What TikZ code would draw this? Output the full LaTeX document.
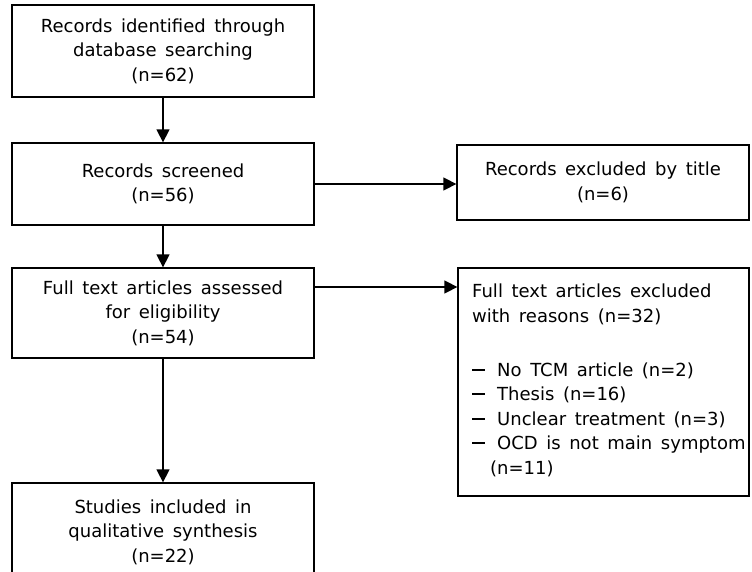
\documentclass[tikz,border=0pt]{standalone}
\usepackage{fontspec}
\setmainfont{DejaVu Sans}[WordSpace=1.5]
\usetikzlibrary{arrows.meta}
\begin{document}
\begin{tikzpicture}[x=1pt,y=-1pt,
 txt/.style={font=\fontsize{18}{24.5}\selectfont},
 box/.style={draw, line width=1.3pt, inner sep=0pt, align=center, txt},
 arr/.style={line width=1.5pt, -{Triangle[length=13pt,width=13pt]}}]
\useasboundingbox (0,0) rectangle (752,572);
\clip (0,0) rectangle (752,572);
\fill[white] (0,0) rectangle (752,572);
\node[box, minimum width=302, minimum height=92] (b1) at (163,51) {Records identified through\\database searching\\(n=62)};
\node[box, minimum width=302, minimum height=82] (b2) at (163,184) {Records screened\\(n=56)};
\node[box, minimum width=302, minimum height=90] (b3) at (163,313) {Full text articles assessed\\for eligibility\\(n=54)};
\node[box, minimum width=302, minimum height=98] (b4) at (163,532) {Studies included in\\qualitative synthesis\\(n=22)};
\node[box, minimum width=292, minimum height=75] (r1) at (603,182.5) {Records excluded by title\\(n=6)};
\node[box, minimum width=291, minimum height=228] (r2) at (603.5,382) {};
\node[txt, align=left, inner sep=0pt, anchor=north west] (r2t) at (472,284) {Full text articles excluded\\with reasons (n=32)\\[29.5pt]
\makebox[25pt][l]{\rule[0.3em]{13pt}{2pt}}No TCM article (n=2)\\
\makebox[25pt][l]{\rule[0.3em]{13pt}{2pt}}Thesis (n=16)\\
\makebox[25pt][l]{\rule[0.3em]{13pt}{2pt}}Unclear treatment (n=3)\\
\makebox[25pt][l]{\rule[0.3em]{13pt}{2pt}}OCD is not main symptom\\
\hspace*{18pt}(n=11)};
\coordinate (a2) at (0,287);
\draw[arr] (b1.south) -- (b2.north);
\draw[arr] (b2.south) -- (b3.north);
\draw[arr] (b3.south) -- (b4.north);
\draw[arr] (b2.east) -- (r1.west |- b2.east);
\draw[arr] (b3.east |- a2) -- (r2.west |- a2);
\end{tikzpicture}
\end{document}
